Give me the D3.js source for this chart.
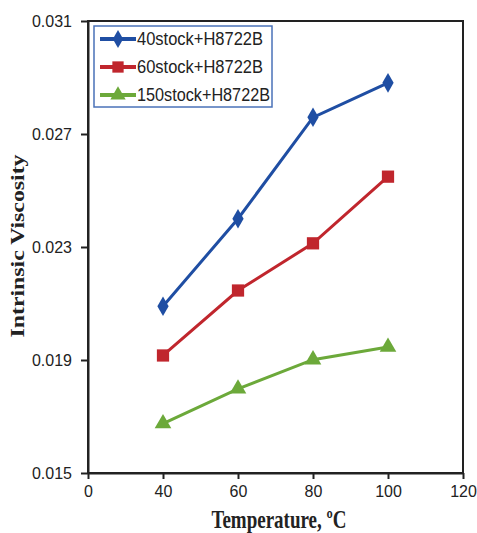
<!DOCTYPE html>
<html>
<head>
<meta charset="utf-8">
<script src="https://cdn.jsdelivr.net/npm/d3@7"></script>
<style>
  body { margin: 0; background: #fff; }
  .tick text { font-family: "Liberation Sans", Arial, sans-serif; font-size: 16px; fill: #222; }
</style>
</head>
<body>
<div id="chart"></div>
<script>
"use strict";

const temps = [40, 60, 80, 100];
const seriesNames = ["40stock+H8722B", "60stock+H8722B", "150stock+H8722B"];
const stock40 = [0.0209, 0.0240, 0.02759, 0.02881];
const stock60 = [0.01916, 0.02146, 0.02313, 0.02549];
const stock150 = [0.01675, 0.01798, 0.01901, 0.01946];
const xTickValues = [20, 40, 60, 80, 100, 120];
const xTickLabels = ["0", "40", "60", "80", "100", "120"];
const yTickValues = [0.015, 0.019, 0.023, 0.027, 0.031];

const svgWidth = 477;
const svgHeight = 533;
const margin = { left: 88, right: 14, top: 21, bottom: 60 };

const seriesList = [
  { name: seriesNames[0], values: stock40, color: "#1f4ea3", symbol: d3.symbolDiamond, size: 110 },
  { name: seriesNames[1], values: stock60, color: "#c0262d", symbol: d3.symbolSquare, size: 150 },
  { name: seriesNames[2], values: stock150, color: "#6ca93a", symbol: d3.symbolTriangle, size: 120 }
];

const container = d3.select("#chart")
  .append("svg")
  .attr("width", svgWidth)
  .attr("height", svgHeight);

const xScale = d3.scaleLinear()
  .domain([20, 120])
  .range([margin.left, svgWidth - margin.right]);
const yScale = d3.scaleLinear()
  .domain([0.015, 0.031])
  .range([svgHeight - margin.bottom, margin.top]);

// frame
container.append("rect")
  .attr("x", margin.left)
  .attr("y", margin.top)
  .attr("width", svgWidth - margin.right - margin.left)
  .attr("height", svgHeight - margin.bottom - margin.top)
  .attr("fill", "none")
  .attr("stroke", "#222")
  .attr("stroke-width", 2);

const xAxis = d3.axisBottom(xScale)
  .tickValues(xTickValues)
  .tickFormat((d, i) => xTickLabels[i])
  .tickSize(6)
  .tickSizeOuter(0);
const yAxis = d3.axisLeft(yScale)
  .tickValues(yTickValues)
  .tickFormat(d3.format(".3f"))
  .tickSize(7)
  .tickSizeOuter(0);

const gx = container.append("g")
  .attr("transform", `translate(0, ${svgHeight - margin.bottom})`)
  .call(xAxis);
gx.selectAll("text").attr("dy", "0.95em");

const gy = container.append("g")
  .attr("transform", `translate(${margin.left}, 0)`)
  .call(yAxis);
gy.selectAll("text").attr("x", -16);

[gx, gy].forEach(g => {
  g.select(".domain").attr("stroke", "#222").attr("stroke-width", 2);
  g.selectAll(".tick line").attr("stroke", "#222").attr("stroke-width", 2);
});

const line = d3.line()
  .x((d, i) => xScale(temps[i]))
  .y(d => yScale(d));

seriesList.forEach(s => {
  container.append("path")
    .datum(s.values)
    .attr("d", line)
    .attr("fill", "none")
    .attr("stroke", s.color)
    .attr("stroke-width", 3);

  container.selectAll(null)
    .data(s.values)
    .enter()
    .append("path")
    .attr("d", d3.symbol().type(s.symbol).size(s.size))
    .attr("transform", (d, i) => `translate(${xScale(temps[i])}, ${yScale(d)})`)
    .attr("fill", s.color);
});

// legend
const legend = container.append("g");
legend.append("rect")
  .attr("x", 94)
  .attr("y", 26)
  .attr("width", 178)
  .attr("height", 81)
  .attr("fill", "#fff")
  .attr("stroke", "#4a72b8")
  .attr("stroke-width", 1.5);

seriesList.forEach((s, i) => {
  const ly = 39 + i * 28;
  legend.append("line")
    .attr("x1", 100).attr("x2", 136)
    .attr("y1", ly).attr("y2", ly)
    .attr("stroke", s.color)
    .attr("stroke-width", 4);
  legend.append("path")
    .attr("d", d3.symbol().type(s.symbol).size(s.size * 0.85))
    .attr("transform", `translate(118, ${ly})`)
    .attr("fill", s.color);
  legend.append("text")
    .attr("x", 137)
    .attr("y", ly)
    .attr("dy", "0.36em")
    .attr("font-family", "'Liberation Sans', Arial, sans-serif")
    .attr("font-size", 18)
    .attr("textLength", i === 2 ? 133 : 126)
    .attr("lengthAdjust", "spacingAndGlyphs")
    .attr("fill", "#222")
    .text(s.name);
});

// axis titles
container.append("text")
  .attr("x", 279)
  .attr("y", 528)
  .attr("text-anchor", "middle")
  .attr("font-family", "'Liberation Serif', 'Times New Roman', serif")
  .attr("font-weight", "bold")
  .attr("font-size", 25)
  .attr("textLength", 135)
  .attr("lengthAdjust", "spacingAndGlyphs")
  .attr("fill", "#222")
  .text("Temperature, ºC");

container.append("text")
  .attr("transform", "translate(24, 246) rotate(-90)")
  .attr("text-anchor", "middle")
  .attr("font-family", "'Liberation Serif', 'Times New Roman', serif")
  .attr("font-weight", "bold")
  .attr("font-size", 18)
  .attr("textLength", 183)
  .attr("lengthAdjust", "spacingAndGlyphs")
  .attr("fill", "#222")
  .text("Intrinsic Viscosity");
</script>
</body>
</html>
